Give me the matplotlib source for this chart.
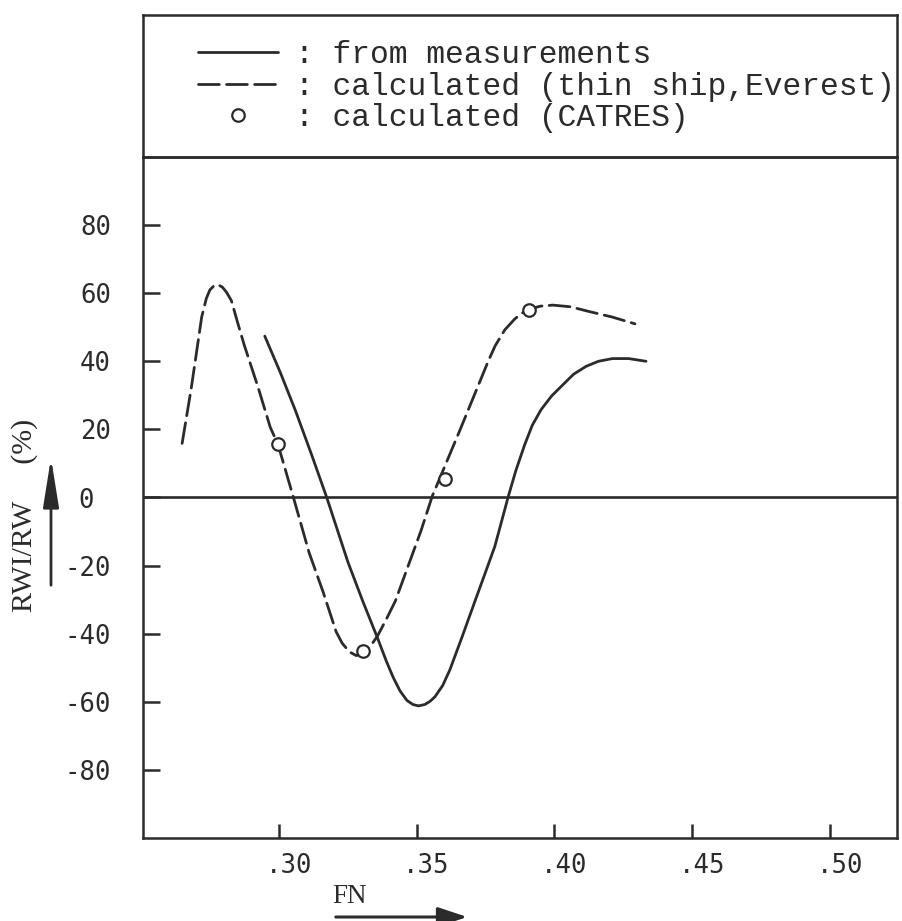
import matplotlib
matplotlib.use("Agg")
import matplotlib.pyplot as plt
from matplotlib.transforms import ScaledTranslation
from matplotlib.font_manager import FontProperties
from matplotlib.patches import FancyArrowPatch

# ---------------- data ----------------
measured_fn = [0.2949, 0.3005, 0.3060, 0.3118, 0.3174, 0.3251, 0.3305, 0.3358,
               0.3390, 0.3415, 0.3440, 0.3465, 0.3487, 0.3507, 0.3530, 0.3550,
               0.3567, 0.3595, 0.3621, 0.3665, 0.3714, 0.3750, 0.3784, 0.3833,
               0.3860, 0.3892, 0.3920, 0.3952, 0.3990, 0.4031, 0.4070, 0.4115,
               0.4160, 0.4211, 0.4270, 0.4333]
measured_val = [47.4, 36.8, 25.6, 12.8, 0.0, -19.0, -30.5, -41.2,
                -48.0, -52.8, -56.8, -59.6, -60.8, -61.2, -60.8, -59.8,
                -58.5, -55.2, -50.6, -41.0, -30.0, -22.0, -14.4, 0.3,
                7.8, 15.4, 21.2, 25.8, 29.8, 33.1, 36.2, 38.5,
                40.0, 40.8, 40.8, 40.0]

thin_fn = [0.2649, 0.2682, 0.2720, 0.2737, 0.2750, 0.2765, 0.2779, 0.2795,
           0.2810, 0.2828, 0.2850, 0.2874, 0.2925, 0.2969, 0.2997, 0.3052,
           0.3110, 0.3161, 0.3208, 0.3230, 0.3256, 0.3280, 0.3300, 0.3320,
           0.3340, 0.3358, 0.3390, 0.3423, 0.3516, 0.3557, 0.3656, 0.3726,
           0.3760, 0.3785, 0.3820, 0.3856, 0.3880, 0.3908, 0.3950, 0.3995,
           0.4060, 0.4122, 0.4210, 0.4293]
thin_val = [15.9, 32.0, 53.0, 58.5, 61.0, 62.2, 62.5, 61.8,
            60.3, 57.8, 51.5, 44.9, 32.3, 20.6, 15.6, 0.3,
            -16.2, -27.8, -39.4, -42.8, -45.3, -46.4, -46.2, -44.8,
            -42.8, -40.7, -35.8, -30.4, -9.8, 0.4, 19.5, 33.3,
            40.0, 44.5, 49.2, 52.4, 54.0, 55.3, 56.2, 56.5,
            56.0, 54.7, 53.0, 51.0]

catres_fn = [0.2997, 0.3304, 0.3604, 0.3908]
catres_val = [15.6, -45.0, 5.4, 55.1]

x_ticks = [0.30, 0.35, 0.40, 0.45, 0.50]
x_ticklabels = [".30", ".35", ".40", ".45", ".50"]
y_ticks = [80, 60, 40, 20, 0, -20, -40, -60, -80]
y_ticklabels = ["80", "60", "40", "20", "0", "-20", "-40", "-60", "-80"]

legend_labels = [": from measurements",
                 ": calculated (thin ship,Everest)",
                 ": calculated (CATRES)"]

# ---------------- figure ----------------
W, H = 902, 921
DPI = 100
fig = plt.figure(figsize=(W / DPI, H / DPI), dpi=DPI, facecolor="white")

ink = "#2b2b2b"
lw = 2.0


def fx(px):
    return px / W


def fy(py):
    return 1 - py / H


left, right, top, bottom = 143, 897, 157, 838
ax = fig.add_axes([fx(left), fy(bottom), fx(right - left), (bottom - top) / H])
ax_top = fig.add_axes([fx(left), fy(top), fx(right - left), (top - 15) / H])

for a in (ax, ax_top):
    for s in a.spines.values():
        s.set_linewidth(1.8)
        s.set_color(ink)

ax_top.set_xticks([])
ax_top.set_yticks([])
ax_top.set_facecolor("none")

ax.set_xlim(0.2507, 0.5244)
ax.set_ylim(-100, 100)

ax.axhline(0, color=ink, lw=1.9)

l_meas, = ax.plot(measured_fn, measured_val, color=ink, lw=lw,
                  solid_capstyle="round", solid_joinstyle="round")
l_thin, = ax.plot(thin_fn, thin_val, color=ink, lw=lw, linestyle=(0, (7.5, 2.6)),
                  dash_capstyle="round", dash_joinstyle="round")
l_cat, = ax.plot(catres_fn, catres_val, linestyle="none", marker="o",
                 markersize=9, markerfacecolor="white", markeredgecolor=ink,
                 markeredgewidth=1.6)

tick_font = dict(family="DejaVu Sans Mono", size=18.5)
ax.set_xticks(x_ticks, x_ticklabels, fontdict=tick_font, color=ink)
ax.set_yticks(y_ticks, y_ticklabels, fontdict=tick_font, color=ink)
ax.tick_params(axis="x", direction="in", length=10, width=1.8, pad=11, color=ink)
ax.tick_params(axis="y", direction="in", length=12, width=1.8, pad=23, color=ink)

off = ScaledTranslation(10 / DPI, 0, fig.dpi_scale_trans)
for t in ax.get_xticklabels():
    t.set_transform(t.get_transform() + off)
off0 = ScaledTranslation(-17 / DPI, 0, fig.dpi_scale_trans)
for t in ax.get_yticklabels():
    if t.get_text() == "0":
        t.set_transform(t.get_transform() + off0)

# axis labels (serif, typewritten look)
fig.text(fx(350), fy(896), "FN", family="Liberation Serif", size=19.5,
         color=ink, ha="center", va="center")
fig.text(fx(25), fy(515), "RWI/RW     (%)", family="Liberation Serif", size=21.5,
         color=ink, ha="center", va="center", rotation=90)

# arrows next to the axis labels
fig.add_artist(FancyArrowPatch(
    (fx(333), fy(917)), (fx(470), fy(917)), transform=fig.transFigure,
    arrowstyle="-|>,head_length=6,head_width=2", color=ink, lw=2.2,
    mutation_scale=3))
fig.add_artist(FancyArrowPatch(
    (fx(51), fy(588)), (fx(51), fy(455)), transform=fig.transFigure,
    arrowstyle="-|>,head_length=10,head_width=1.6", color=ink, lw=2.0,
    mutation_scale=3))

# legend in the upper box
leg = ax_top.legend(handles=[l_meas, l_thin, l_cat], labels=legend_labels,
                    loc="upper left", bbox_to_anchor=(fx(198), fy(40)),
                    bbox_transform=fig.transFigure, frameon=False,
                    prop=FontProperties(family="Liberation Mono", size=22.5),
                    handlelength=2.56, handletextpad=0.55, labelspacing=0.05,
                    borderpad=0, borderaxespad=0)
for t in leg.get_texts():
    t.set_color(ink)

fig.savefig("out.png", dpi=DPI, facecolor="white")
